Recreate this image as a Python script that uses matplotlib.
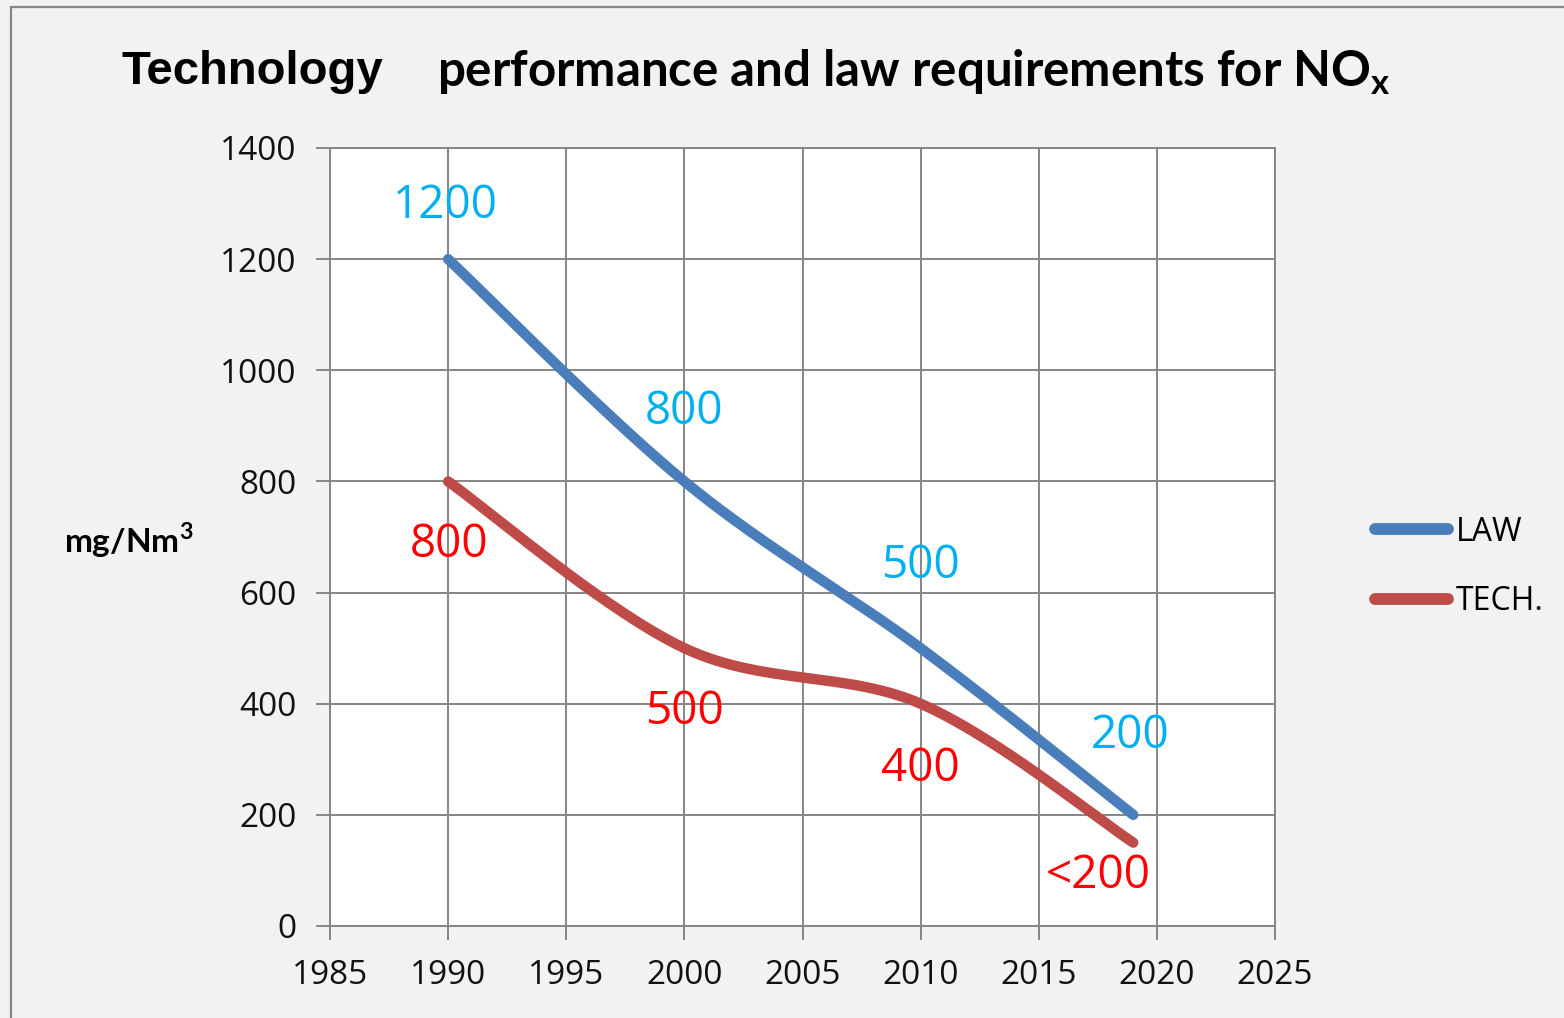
import numpy as np
import matplotlib
matplotlib.use("Agg")
import matplotlib.pyplot as plt
from matplotlib.patches import Rectangle

# ---- data ----
years_law = [1990, 2000, 2010, 2019]
law = [1200, 800, 500, 200]
years_tech = [1990, 2000, 2010, 2019]
tech = [800, 500, 400, 150]
law_labels = ["1200", "800", "500", "200"]
tech_labels = ["800", "500", "400", "<200"]
x_ticks = [1985, 1990, 1995, 2000, 2005, 2010, 2015, 2020, 2025]
y_ticks = [0, 200, 400, 600, 800, 1000, 1200, 1400]

# label offsets in points (manual placements as in the source)
law_off = [(-2, 38), (0, 50), (0, 59), (-2, 57)]
tech_off = [(1, -46), (0, -46), (0, -47), (-25, -24)]

BLUE = "#4A7EBB"
RED = "#BE4B48"
CYAN = "#00B0F0"
LRED = "#FF0000"
GRID = "#868686"
BG = "#F2F2F2"
FONT = "Lato"
LFONT = "Open Sans"


def smooth(xs, ys, n=60):
    """Excel-like smoothed line: cubic Bezier through points (Catmull-Rom control points)."""
    P = np.column_stack([xs, ys]).astype(float)
    m = len(P)
    out = []
    for i in range(m - 1):
        p0 = P[i - 1] if i > 0 else P[i]
        p1 = P[i]
        p2 = P[i + 1]
        p3 = P[i + 2] if i + 2 < m else P[i + 1]
        c1 = p1 + (p2 - p0) / 6.0
        c2 = p2 - (p3 - p1) / 6.0
        t = np.linspace(0, 1, n)[:, None]
        seg = ((1 - t) ** 3) * p1 + 3 * ((1 - t) ** 2) * t * c1 + 3 * (1 - t) * t ** 2 * c2 + t ** 3 * p2
        out.append(seg if i == 0 else seg[1:])
    s = np.vstack(out)
    return s[:, 0], s[:, 1]


fig = plt.figure(figsize=(15.64, 10.18), dpi=100)
fig.patch.set_facecolor(BG)

# outer chart border
fig.add_artist(Rectangle((11 / 1564, -0.05), 1.2, 1 - 7 / 1018 + 0.05, transform=fig.transFigure,
                         fill=False, edgecolor=GRID, linewidth=1.6))

ax = fig.add_axes([330 / 1564, 92 / 1018, 945 / 1564, 778 / 1018])
ax.set_facecolor("white")
ax.set_xlim(1985, 2025)
ax.set_ylim(0, 1400)
ax.set_xticks(x_ticks)
ax.set_yticks(y_ticks)
ax.set_xticklabels([str(v) for v in x_ticks], fontfamily=LFONT, fontsize=24)
ax.set_yticklabels([str(v) for v in y_ticks], fontfamily=LFONT, fontsize=24)
ax.grid(True, color=GRID, linewidth=1.4)
ax.set_axisbelow(True)
for sp in ax.spines.values():
    sp.set_color(GRID)
    sp.set_linewidth(1.4)
ax.tick_params(axis="both", length=10, width=1.4, color=GRID, direction="out", labelcolor="#111111")
ax.tick_params(axis="y", pad=14)
ax.tick_params(axis="x", pad=14)

xl, yl = smooth(years_law, law)
xt, yt = smooth(years_tech, tech)
ax.plot(xl, yl, color=BLUE, linewidth=7.5, solid_capstyle="round", label="LAW", zorder=3)
ax.plot(xt, yt, color=RED, linewidth=7.5, solid_capstyle="round", label="TECH.", zorder=3)

for x, y, s, off in zip(years_law, law, law_labels, law_off):
    ax.annotate(s, (x, y), xytext=off, textcoords="offset points", ha="center", va="center",
                color=CYAN, fontsize=33, fontfamily=LFONT, annotation_clip=False)
for x, y, s, off in zip(years_tech, tech, tech_labels, tech_off):
    ax.annotate(s, (x, y), xytext=off, textcoords="offset points", ha="center", va="center",
                color=LRED, fontsize=33, fontfamily=LFONT, annotation_clip=False)

leg = fig.legend(handles=ax.get_lines(), labels=["LAW", "TECH."], loc="center left",
                 bbox_to_anchor=(1346 / 1564, 1 - 567 / 1018), frameon=False,
                 prop={"family": LFONT, "size": 23}, handlelength=2.3, handletextpad=0.25,
                 labelspacing=1.15)
for h in leg.get_lines():
    h.set_linewidth(8.5)

# title
fig.text(121 / 1564, 1 - 72 / 1018, "Technology", fontfamily="Liberation Sans", fontweight="bold",
         fontsize=34, ha="left", va="center")
fig.text(437 / 1564, 1 - 72 / 1018, r"performance and law requirements for NO$_\mathregular{x}$",
         fontfamily=FONT, fontweight="bold", fontsize=35.5, ha="left", va="center")

# y-axis unit label
fig.text(64 / 1564, 1 - 540 / 1018, r"mg/Nm$^\mathregular{3}$", fontfamily=FONT, fontweight="bold",
         fontsize=24, ha="left", va="center")

fig.savefig("out.png", dpi=100, facecolor=BG)
